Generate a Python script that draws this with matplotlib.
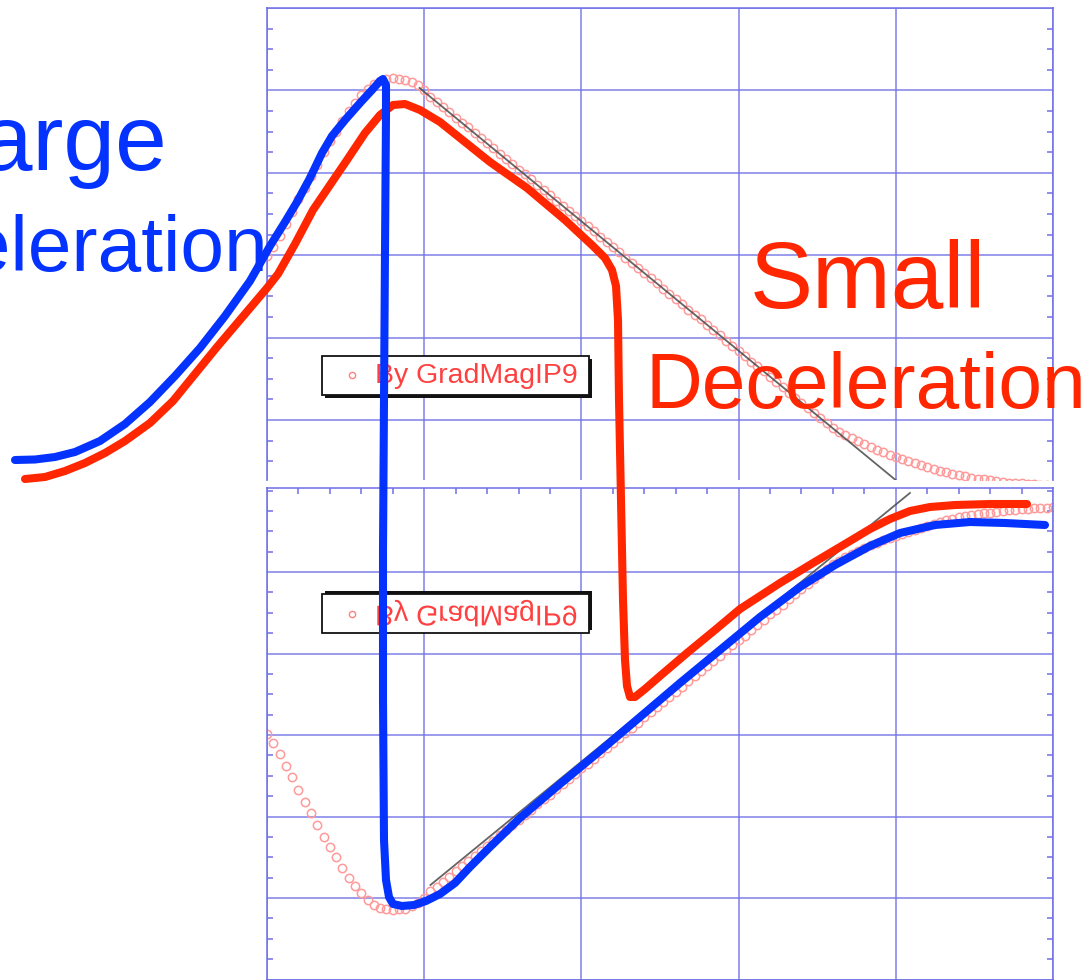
import matplotlib
matplotlib.use("Agg")
import matplotlib.pyplot as plt
import numpy as np
from matplotlib.patches import Rectangle
from matplotlib.patheffects import AbstractPathEffect
from matplotlib.transforms import Affine2D
from matplotlib.ticker import MultipleLocator

W, H, DPI = 1092, 980, 100
FONT = ["Liberation Sans", "DejaVu Sans"]

BLUE = "#0433ff"
RED = "#ff2600"
GRID = "#7070e6"
PINK = "#ff9a9a"
LEGEND_RED = "#ff4040"

# ---- measured series (time and value in grid units, 10 per division) ----
t = np.round(np.arange(0, 50.001, 0.4), 1)
grad_mag = [
    19.9, 21.0, 22.3, 23.8, 25.2, 26.8, 28.2, 29.6, 31.0, 32.5,
    33.8, 35.0, 36.3, 37.5, 38.5, 39.4, 40.2, 40.8, 41.2, 41.4,
    41.5, 41.4, 41.3, 41.0, 40.6, 40.0,
    39.2, 38.6, 38.0, 37.4, 36.7, 36.1, 35.5, 34.8, 34.2, 33.6,
    33.0, 32.3, 31.7, 31.1, 30.4, 29.8, 29.2, 28.5, 27.9, 27.3,
    26.6, 26.0, 25.4, 24.8, 24.1, 23.5, 22.9, 22.2, 21.6, 21.0,
    20.4, 19.7, 19.1, 18.5, 17.8, 17.2, 16.6, 15.9, 15.3, 14.7,
    14.1, 13.4, 12.8, 12.2, 11.5, 10.9, 10.3, 9.6, 9.0, 8.4,
    7.8, 7.1, 6.5, 5.9, 5.2, 4.6, 4.0, 3.3, 2.7, 2.1,
    1.5, 0.8, 0.2,
    -0.4, -0.95, -1.4, -1.8, -2.2, -2.6, -2.95, -3.3, -3.6, -3.9,
    -4.2, -4.45, -4.7, -4.95, -5.2, -5.45, -5.7, -5.95, -6.15, -6.35,
    -6.55, -6.7, -6.85, -7.0, -7.1, -7.2, -7.3, -7.4, -7.5, -7.6,
    -7.65, -7.7, -7.75, -7.8, -7.85, -7.9, -7.95,
]
legend_label = "By GradMagIP9"

# straight tangent segments over the falling / rising flank
tangent_top_t = [9.7, 40.0]
tangent_top_v = [40.3, -7.3]
tangent_bot_t = [10.4, 40.9]
tangent_bot_v = [38.4, -9.7]

# ---- hand-drawn strokes, in canvas pixels (x right, y down) ----
large_x = [15, 35, 55, 75, 100, 125, 150, 175, 200, 225,
           250, 270, 285, 297, 310, 322, 332, 345, 360, 372,
           380, 383, 386, 386, 385, 384, 383, 383, 384, 386,
           389, 393, 402, 414, 426, 440, 455, 470, 490, 520,
           560, 600, 640, 680, 720, 760, 800, 835, 870, 900,
           935, 970, 1005, 1045]
large_y = [460, 459.5, 457, 452, 441, 424, 402, 376, 348, 316,
           281, 246, 222, 202, 178, 153, 136, 120, 103, 90,
           81, 79, 85, 115, 250, 400, 550, 700, 840, 880,
           897, 904, 906, 905, 901, 894, 883, 867, 847, 818,
           784, 751, 717, 683, 650, 617, 587, 565, 546, 533,
           525, 522, 523, 525]

small_x = [25, 45, 65, 85, 105, 125, 150, 173, 195, 217,
           245, 267, 278, 295, 313, 330, 347, 365, 380, 393,
           405, 420, 440, 460, 490, 527, 565, 593, 605, 612,
           616, 618, 619, 621, 623, 625, 627, 630, 635, 645,
           660, 687, 715, 740, 780, 813, 850, 870, 890, 910,
           930, 955, 990, 1027]
small_y = [479, 477, 471, 463, 453, 441, 423, 401, 374, 347,
           314, 288, 274, 244, 210, 185, 160, 133, 115, 105,
           104, 110, 122, 138, 162, 188, 220, 246, 258, 270,
           286, 320, 400, 500, 600, 660, 686, 697, 697, 689,
           676, 653, 630, 609, 583, 563, 541, 529, 519, 511,
           507, 505, 504, 504]


class MirrorY(AbstractPathEffect):
    """Draw a path reflected about its own horizontal centre line."""

    def draw_path(self, renderer, gc, tpath, affine, rgbFace=None):
        box = tpath.get_extents(affine)
        yc = 0.5 * (box.y0 + box.y1)
        flipped = affine + Affine2D().translate(0, -yc).scale(1, -1).translate(0, yc)
        renderer.draw_path(gc, tpath, flipped, rgbFace)


fig = plt.figure(figsize=(W / DPI, H / DPI), dpi=DPI)
fig.patch.set_facecolor("white")


def pixel_axes(z):
    a = fig.add_axes([0, 0, 1, 1], zorder=z)
    a.set_xlim(0, W)
    a.set_ylim(H, 0)
    a.axis("off")
    a.patch.set_alpha(0)
    return a


def panel(top_px, bottom_px, ylim, xminor_top):
    ax = fig.add_axes([267 / W, (H - bottom_px) / H, 786 / W, (bottom_px - top_px) / H], zorder=1)
    ax.set_facecolor("white")
    ax.set_xlim(0, 50)
    ax.set_ylim(*ylim)
    ax.set_xticks(np.arange(0, 51, 10))
    ax.set_yticks(np.arange(0, 51, 10))
    ax.grid(True, which="major", color=GRID, lw=1.4, alpha=0.7)
    ax.yaxis.set_minor_locator(MultipleLocator(2.5))
    ax.xaxis.set_minor_locator(MultipleLocator(2))
    ax.tick_params(which="major", length=0, labelleft=False, labelbottom=False)
    ax.tick_params(which="minor", direction="in", length=4, width=1.1, color=GRID,
                   left=True, right=True, top=xminor_top, bottom=False)
    for s in ax.spines.values():
        s.set_color(GRID)
        s.set_linewidth(1.4)
        s.set_alpha(0.8)
    return ax


# large labels behind the panels
under = pixel_axes(-1)
under.text(167, 170, "Large", color=BLUE, fontsize=67, family=FONT, ha="right", va="baseline")
under.text(268, 271, "Deceleration", color=BLUE, fontsize=56.5, family=FONT, ha="right", va="baseline")

# upper panel
ax_top = panel(8, 480, (-7.28, 50.0), False)
ax_top.spines["bottom"].set_visible(False)
ax_top.plot(t, grad_mag, ls="none", marker="o", ms=6, mfc="none", mec=PINK, mew=1.1)
ax_top.plot(tangent_top_t, tangent_top_v, color="#4a4a4a", lw=1.3, alpha=0.85)

# lower panel, value axis reversed
ax_bot = panel(488, 980, (50.06, -10.31), True)
ax_bot.plot(t, grad_mag, ls="none", marker="o", ms=6, mfc="none", mec=PINK, mew=1.1)
ax_bot.plot(tangent_bot_t, tangent_bot_v, color="#4a4a4a", lw=1.3, alpha=0.85)

# overlay: legend boxes, notes and strokes
over = pixel_axes(2)


def legend_box(y_main, shadow_dy, mirrored):
    over.add_patch(Rectangle((325, y_main + shadow_dy), 267, 39, facecolor="#111111",
                             edgecolor="none", zorder=1))
    over.add_patch(Rectangle((322, y_main), 267, 39, facecolor="white",
                             edgecolor="#111111", lw=1.3, zorder=2))
    yc = y_main + 19.5
    over.plot([352], [yc], ls="none", marker="o", ms=4.5, mfc="none", mec="#ff8080",
              mew=1.0, zorder=3)
    txt = over.text(375, yc, legend_label, color=LEGEND_RED, fontsize=20.5, family=FONT,
                    ha="left", va="center", zorder=3)
    if mirrored:
        txt.set_path_effects([MirrorY()])


legend_box(356, 3, False)
legend_box(594, -3, True)

over.text(750, 308, "Small", color=RED, fontsize=68, family=FONT, ha="left", va="baseline", zorder=4)
over.text(645, 408, "Deceleration", color=RED, fontsize=56.5, family=FONT, ha="left", va="baseline", zorder=4)

over.plot(small_x, small_y, color=RED, lw=5.8, solid_capstyle="round", solid_joinstyle="round", zorder=5)
over.plot(large_x, large_y, color=BLUE, lw=5.8, solid_capstyle="round", solid_joinstyle="round", zorder=6)

fig.savefig("out.png", dpi=DPI, facecolor="white")
